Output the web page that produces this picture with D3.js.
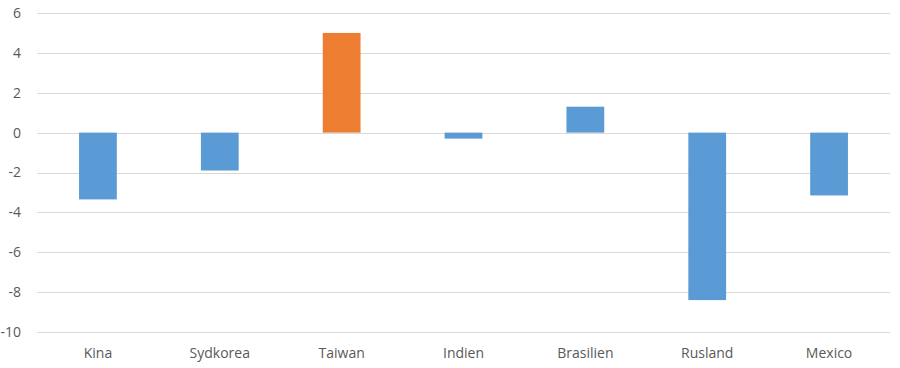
<!DOCTYPE html>
<html>
<head>
<meta charset="utf-8">
<script src="https://cdn.jsdelivr.net/npm/d3@7"></script>
<style>
  body { margin: 0; background: #fff; }
  text { font-family: "Open Sans", "Liberation Sans", sans-serif; fill: #595959; font-size: 14px; }
</style>
</head>
<body>
<div id="chart"></div>
<script>
// categories and values
var countries = ["Kina", "Sydkorea", "Taiwan", "Indien", "Brasilien", "Rusland", "Mexico"];
var values = [-3.35, -1.9, 5.0, -0.3, 1.3, -8.4, -3.15];
var highlight = ["Taiwan"];
var yTicks = [-10, -8, -6, -4, -2, 0, 2, 4, 6];

var svgWidth = 900;
var svgHeight = 368;
var margin = { top: 13, right: 10, bottom: 36, left: 37 };

var width = svgWidth - margin.left - margin.right;
var height = svgHeight - margin.top - margin.bottom;

var svg = d3.select("#chart")
    .append("svg")
    .attr("width", svgWidth)
    .attr("height", svgHeight);

var chartGroup = svg.append("g")
    .attr("transform", `translate(${margin.left},${margin.top})`);

var xScale = d3.scaleBand()
    .domain(countries)
    .range([0, width])
    .padding(0);

var yScale = d3.scaleLinear()
    .domain([-10, 6])
    .range([height, 0]);

// gridlines
chartGroup.append("g")
    .selectAll("line")
    .data(yTicks)
    .enter()
    .append("line")
    .attr("x1", 0)
    .attr("x2", width)
    .attr("y1", d => Math.round(yScale(d)) + 0.5)
    .attr("y2", d => Math.round(yScale(d)) + 0.5)
    .attr("stroke", "#d9d9d9")
    .attr("stroke-width", 1);

// y axis labels (plain hyphen for minus, like the original)
var yAxis = d3.axisLeft(yScale).tickValues(yTicks).tickSize(0).tickPadding(16)
    .tickFormat(d => String(d));
chartGroup.append("g")
    .call(yAxis)
    .call(g => g.select(".domain").remove())
    .selectAll("text")
    .style("font-size", "14px")
    .attr("fill", "#595959");

// bars
var barW = xScale.bandwidth() * 0.31;
chartGroup.append("g")
    .selectAll("rect")
    .data(countries)
    .enter()
    .append("rect")
    .attr("x", d => xScale(d) + (xScale.bandwidth() - barW) / 2)
    .attr("width", barW)
    .attr("y", (d, i) => yScale(Math.max(0, values[i])))
    .attr("height", (d, i) => Math.abs(yScale(values[i]) - yScale(0)))
    .attr("fill", d => highlight.includes(d) ? "#ed7d31" : "#5b9bd5");

// x axis labels
var xAxis = d3.axisBottom(xScale).tickSize(0).tickPadding(16);
chartGroup.append("g")
    .attr("transform", `translate(0,${height})`)
    .call(xAxis)
    .call(g => g.select(".domain").remove())
    .selectAll("text")
    .style("font-size", "14px")
    .attr("fill", "#595959");
</script>
</body>
</html>
